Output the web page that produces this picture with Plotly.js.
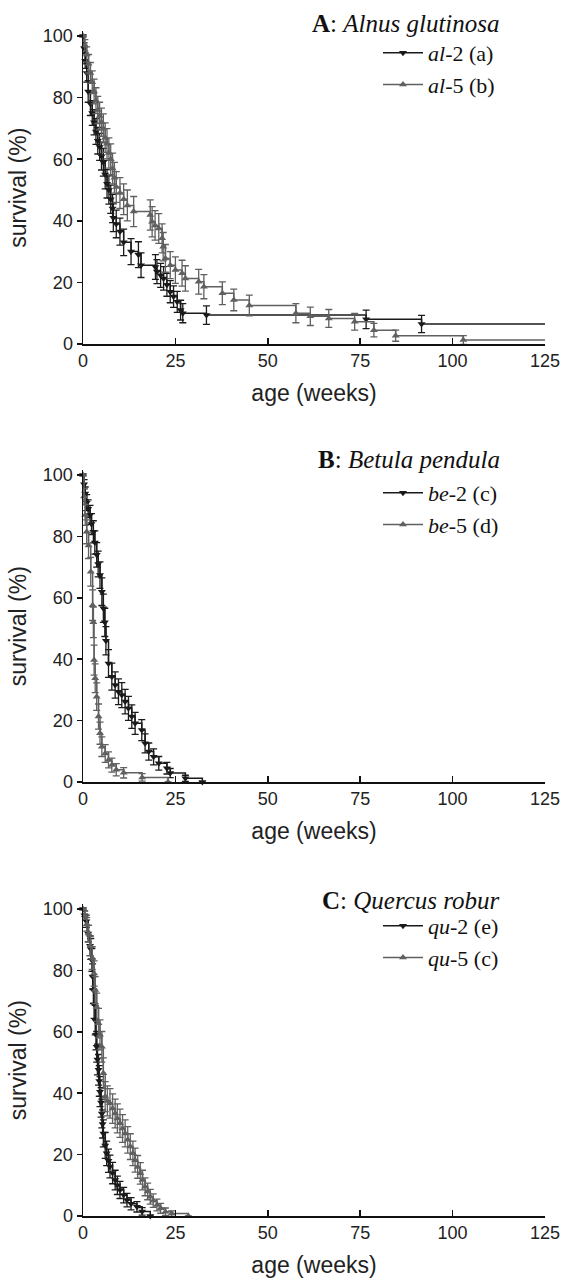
<!DOCTYPE html>
<html><head><meta charset="utf-8">
<script src="https://cdn.plot.ly/plotly-3.0.1.min.js"></script>
<style>html,body{margin:0;padding:0;background:#fff;}#chart{width:567px;height:1281px;}</style>
</head><body><div id="chart"></div>
<script>
// ---------- data (age in weeks, survival %, error %) ----------
const endWeek = 125;
const xTicks = [0, 25, 50, 75, 100, 125];
const yTicks = [0, 20, 40, 60, 80, 100];

// A: Alnus glutinosa
const al2_t = [0, 0.3, 0.6, 1, 1.4, 2, 2.5, 3, 3.5, 4, 4.5, 5, 5.5, 6, 6.5, 7, 7.5, 8, 8.2, 9, 10, 11, 13, 15, 15.7, 19.6, 20, 21, 21.8, 22.7, 23.6, 24.5, 25.5, 26.4, 27, 33.4, 76.6, 91.6];
const al2_s = [100, 96, 92, 88, 82, 78, 75, 72, 69, 66, 64, 61, 59, 55, 52, 50, 47, 44, 41, 39, 36.5, 33, 30, 29, 25.6, 25, 23.5, 22.3, 21.3, 19.2, 17, 15.4, 13.7, 11, 10, 9.4, 8, 6.5];
const al2_e = [0, 1.8, 2.5, 3, 3.5, 3.8, 4, 4.1, 4.2, 4.3, 4.4, 4.5, 4.5, 4.6, 4.6, 4.6, 4.6, 4.6, 4.5, 4.5, 4.4, 4.3, 4.2, 4.2, 4, 4, 3.9, 3.9, 3.8, 3.7, 3.6, 3.5, 3.4, 3.2, 3.1, 3.0, 3.0, 2.8];
const al5_t = [0, 0.5, 1, 1.5, 2, 2.5, 3, 3.5, 4, 4.5, 5, 5.5, 6, 6.5, 7, 7.5, 8, 8.5, 9, 10, 11, 12, 13.7, 18.2, 18.7, 19.5, 20.5, 21.4, 21.7, 22.3, 23.6, 25, 26.8, 27.7, 31.3, 32.7, 37.7, 40.8, 45, 57.6, 61.5, 66.5, 73.5, 78.7, 84.6, 102.9];
const al5_s = [100, 97, 94, 91, 88, 85, 82, 79, 76, 74, 72, 70, 67, 65, 62, 60, 57, 54, 51, 49, 47, 45, 43, 41.9, 39.7, 38.5, 37.5, 34.3, 31.6, 27.8, 25.6, 24, 23, 21.3, 20.2, 18.6, 16.5, 14.3, 12.5, 10, 9, 8.3, 7.2, 4.5, 2.7, 1.3];
const al5_e = [0, 1.8, 2.5, 3, 3.4, 3.7, 4, 4.2, 4.4, 4.5, 4.6, 4.7, 4.8, 4.9, 4.9, 5, 5, 5, 5, 5, 5, 5, 4.9, 4.9, 4.9, 4.8, 4.8, 4.7, 4.6, 4.5, 4.4, 4.3, 4.2, 4.1, 4, 3.9, 3.7, 3.5, 3.4, 3.1, 3, 2.9, 2.7, 2.2, 1.8, 1.4];

// B: Betula pendula
const be2_t = [0, 0.3, 0.6, 1, 1.4, 1.9, 2.3, 2.8, 3.2, 3.7, 4.1, 4.6, 5.1, 5.5, 5.9, 6.2, 6.9, 7.8, 8.7, 9.6, 10.5, 11.4, 12.3, 13.2, 14.1, 15.9, 16.8, 17.8, 19.1, 20.5, 22.7, 23.6, 27.7, 32.3];
const be2_s = [100, 97, 94, 91, 89, 87, 84, 81.5, 78, 74, 71, 67.4, 62, 56.6, 52, 46, 38.6, 34.3, 31.6, 29.4, 28.3, 26.2, 24, 21.3, 19.1, 16.9, 12.6, 9.9, 8.2, 6.1, 4.5, 2.9, 1.2, 0];
const be2_e = [0, 1.5, 2.1, 2.6, 2.9, 3.1, 3.4, 3.6, 3.8, 4, 4.2, 4.3, 4.5, 4.6, 4.6, 4.6, 4.5, 4.4, 4.3, 4.2, 4.1, 4, 3.9, 3.8, 3.6, 3.4, 3.1, 2.8, 2.6, 2.2, 1.9, 1.5, 1, 0];
const be5_t = [0, 0.3, 0.6, 1, 1.5, 2.1, 2.6, 2.8, 3, 3.3, 3.7, 4.2, 4.6, 5.1, 6, 6.9, 7.8, 9, 11, 16, 23];
const be5_s = [100, 93, 87, 81.5, 77, 68.5, 57.6, 52, 39.7, 33.8, 27.8, 21.3, 15.9, 11.5, 9.3, 7.2, 5.5, 4, 3, 1.5, 0];
const be5_e = [0, 2.6, 3.4, 3.9, 4.2, 4.7, 5, 5, 4.9, 4.7, 4.5, 4.1, 3.6, 3.2, 2.9, 2.6, 2.3, 2, 1.7, 1.2, 0];

// C: Quercus robur
const qu2_t = [0, 0.4, 0.9, 1.4, 1.9, 2.1, 2.4, 2.6, 2.8, 3.0, 3.3, 3.5, 3.7, 3.9, 4.2, 4.4, 4.6, 4.9, 5.1, 5.3, 5.5, 6, 6.4, 6.9, 7.3, 8, 8.7, 9.3, 10, 11, 11.9, 13, 14.6, 16, 18.2];
const qu2_s = [100, 98, 96, 92, 88, 87, 83.4, 78, 73.6, 69, 63.8, 59, 55.1, 51, 47.6, 44, 40.5, 37, 33.4, 30, 26.9, 23, 20.4, 18, 16.1, 14, 11.7, 10, 8.5, 6.8, 5.2, 4, 3, 1.5, 0];
const qu2_e = [0, 1.4, 2, 2.7, 3.2, 3.4, 3.7, 4.1, 4.4, 4.6, 4.8, 4.9, 5, 5, 5, 5, 4.9, 4.8, 4.7, 4.6, 4.4, 4.2, 4, 3.8, 3.7, 3.5, 3.2, 3, 2.8, 2.5, 2.2, 2, 1.7, 1.2, 0];
const qu5_t = [0, 0.5, 1, 1.5, 2, 2.5, 3, 3.3, 3.7, 4.2, 4.6, 5.1, 5.5, 6, 6.6, 7.3, 8, 8.7, 9.3, 10, 10.7, 11.4, 12.1, 12.8, 13.5, 14.1, 14.8, 15.5, 16.1, 16.8, 17.5, 18.2, 19, 20, 21, 22.3, 24, 28.5];
const qu5_s = [100, 98, 95, 92, 88, 84, 79, 73.6, 68, 62.8, 59, 55.1, 46.5, 38.9, 37.5, 36.7, 35, 33.4, 31.8, 30.2, 28.5, 26.9, 24.8, 22.6, 20.4, 18.2, 16, 13.9, 11.7, 9.5, 8, 6.3, 5, 3.6, 2.5, 1.4, 0.8, 0];
const qu5_e = [0, 1.4, 2.2, 2.7, 3.2, 3.7, 4.1, 4.4, 4.6, 4.8, 4.9, 5, 5, 4.9, 4.9, 4.8, 4.8, 4.7, 4.7, 4.6, 4.5, 4.4, 4.3, 4.2, 4, 3.9, 3.7, 3.5, 3.2, 2.9, 2.7, 2.4, 2.2, 1.9, 1.6, 1.2, 0.9, 0];

const panelTitles = ['<b>A</b>: <i>Alnus glutinosa</i>', '<b>B</b>: <i>Betula pendula</i>', '<b>C</b>: <i>Quercus robur</i>'];
const names = [['<i>al</i>-2 (a)', '<i>al</i>-5 (b)'], ['<i>be</i>-2 (c)', '<i>be</i>-5 (d)'], ['<i>qu</i>-2 (e)', '<i>qu</i>-5 (c)']];
const xTitle = 'age (weeks)';
const yTitle = 'survival (%)';

// ---------- styling ----------
const DARK = '#1a1a1a', GRAY = '#606060';
const W = 567, H = 1281;
const SANS = 'Liberation Sans, Arial, sans-serif';
const SERIF = 'Liberation Serif, Times New Roman, serif';

function curve(t, s, e, name, color, symbol, k) {
  const sfx = k === 0 ? '' : String(k + 1);
  return {
    x: t, y: s, name: name, mode: 'lines+markers', cliponaxis: false,
    xaxis: 'x' + sfx, yaxis: 'y' + sfx, legend: 'legend' + sfx, legendgroup: name,
    line: {shape: 'hv', color: color, width: 1.5},
    marker: {symbol: symbol, size: 7, color: color},
    error_y: {type: 'data', array: e, visible: true, color: color, thickness: 1.3, width: 3.5}
  };
}
function tail(t, s, color, k, toEnd) {
  const sfx = k === 0 ? '' : String(k + 1);
  const lt = t[t.length - 1], ls = s[s.length - 1];
  return {x: [lt, toEnd], y: [ls, ls], mode: 'lines', showlegend: false, hoverinfo: 'skip', cliponaxis: false,
    xaxis: 'x' + sfx, yaxis: 'y' + sfx, line: {color: color, width: 1.5}};
}

const data = [
  curve(al2_t, al2_s, al2_e, names[0][0], DARK, 'triangle-down', 0),
  curve(al5_t, al5_s, al5_e, names[0][1], GRAY, 'triangle-up', 0),
  tail(al2_t, al2_s, DARK, 0, endWeek),
  tail(al5_t, al5_s, GRAY, 0, endWeek),
  curve(be2_t, be2_s, be2_e, names[1][0], DARK, 'triangle-down', 1),
  curve(be5_t, be5_s, be5_e, names[1][1], GRAY, 'triangle-up', 1),
  curve(qu2_t, qu2_s, qu2_e, names[2][0], DARK, 'triangle-down', 2),
  curve(qu5_t, qu5_s, qu5_e, names[2][1], GRAY, 'triangle-up', 2)
];

// plot-area pixel frames: [y of 0 %, y of 101.5 %]
const frames = [[344, 31.4], [782, 470.4], [1216, 904.4]];
const titleY = [23, 460, 900];
const legendTop = [32, 472, 905];

const layout = {
  width: W, height: H, margin: {l: 0, r: 0, t: 0, b: 0},
  paper_bgcolor: '#fff', plot_bgcolor: '#fff', showlegend: true,
  annotations: [], font: {family: SANS, color: '#222'}
};
frames.forEach((f, k) => {
  const sfx = k === 0 ? '' : String(k + 1);
  layout['xaxis' + sfx] = {
    anchor: 'y' + sfx, domain: [83 / W, 545 / W], range: [0, 125],
    tickvals: xTicks, ticks: 'inside', ticklen: 6, tickwidth: 1.5, tickcolor: '#111',
    showline: true, linecolor: '#111', linewidth: 1.5, showgrid: false, zeroline: false,
    tickfont: {family: SANS, size: 18, color: '#222'},
    title: {text: xTitle, font: {family: SANS, size: 23, color: '#222'}, standoff: 15}
  };
  layout['yaxis' + sfx] = {
    anchor: 'x' + sfx, domain: [1 - f[0] / H, 1 - f[1] / H], range: [0, 101.5],
    tickvals: yTicks, ticks: 'outside', ticklen: 5, tickwidth: 1.5, tickcolor: '#111',
    showline: true, linecolor: '#111', linewidth: 1.5, showgrid: false, zeroline: false,
    tickfont: {family: SANS, size: 18, color: '#222'},
    title: {text: yTitle, font: {family: SANS, size: 23, color: '#222'}, standoff: 10}
  };
  layout['legend' + sfx] = {
    x: 378 / W, xanchor: 'left', y: 1 - legendTop[k] / H, yanchor: 'top',
    bgcolor: 'rgba(0,0,0,0)', borderwidth: 0, tracegroupgap: 0, itemwidth: 40,
    font: {family: SERIF, size: 22, color: '#111'}
  };
  layout.annotations.push({
    xref: 'paper', yref: 'paper', x: 502 / W, y: 1 - titleY[k] / H, xanchor: 'right', yanchor: 'middle',
    text: panelTitles[k], showarrow: false, font: {family: SERIF, size: 25, color: '#111'}
  });
});

Plotly.newPlot('chart', data, layout, {staticPlot: true, displayModeBar: false});
</script></body></html>
